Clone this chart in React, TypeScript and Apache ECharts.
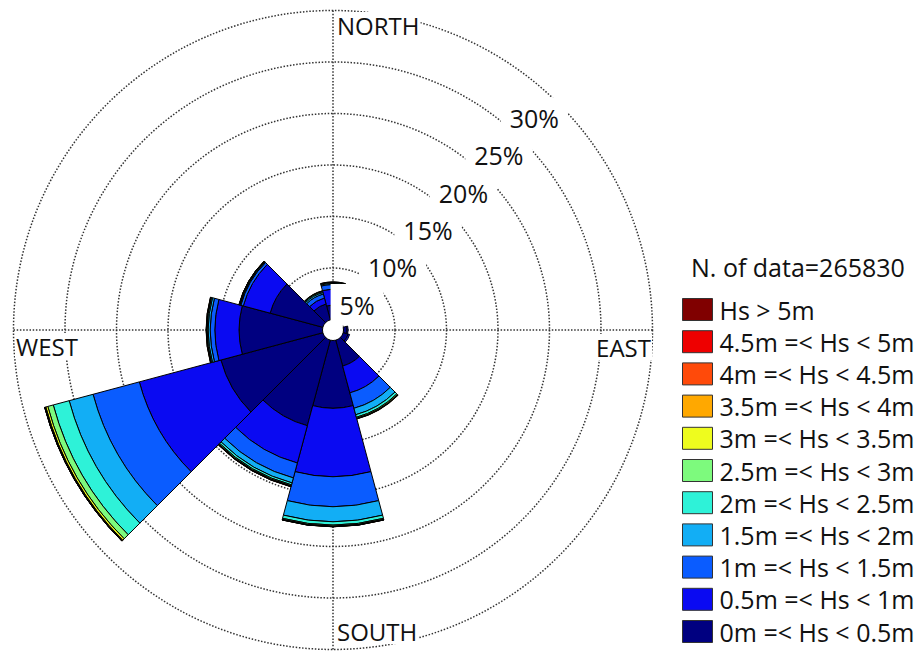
import { useEffect, useRef } from "react";
import * as echarts from "echarts";

// Direction sectors, clockwise from north, 30° each
const directions = ["N", "NNE", "ENE", "E", "ESE", "SSE", "S", "SSW", "WSW", "W", "WNW", "NNW"];

// Significant wave height classes (bottom of the stack first)
const hsClasses = [
  "0m =< Hs < 0.5m",
  "0.5m =< Hs < 1m",
  "1m =< Hs < 1.5m",
  "1.5m =< Hs < 2m",
  "2m =< Hs < 2.5m",
  "2.5m =< Hs < 3m",
  "3m =< Hs < 3.5m",
  "3.5m =< Hs < 4m",
  "4m =< Hs < 4.5m",
  "4.5m =< Hs < 5m",
  "Hs > 5m",
];
const hsColors = [
  "#000080", "#0a0af2", "#0a5cff", "#12aef5", "#2ef2d8",
  "#7dfa7d", "#eefc1e", "#ffa800", "#ff4a0a", "#ee0000", "#800000",
];

// Frequency (%) per direction, order N ... NNW
const hs0to05 = [1.4, 0, 0, 0.35, 0.5, 2.6, 6.58, 8.6, 10.25, 8.1, 5.3, 1.6];
const hs05to1 = [1.55, 0, 0, 0.1, 0.15, 2.7, 6.64, 3.75, 8.2, 2.35, 2.7, 0.6];
const hs1to15 = [0.45, 0, 0, 0, 0, 1.55, 2.91, 1.5, 4.65, 0.45, 0.25, 0.4];
const hs15to2 = [0.1, 0, 0, 0, 0, 0.65, 1.46, 0.5, 2.4, 0.2, 0.08, 0.15];
const hs2to25 = [0.08, 0, 0, 0, 0, 0.25, 0.32, 0.2, 1.6, 0.1, 0.05, 0.1];
const hs25to3 = [0.05, 0, 0, 0, 0, 0.1, 0.1, 0.1, 0.55, 0.05, 0.03, 0.05];
const hs3to35 = [0.02, 0, 0, 0, 0, 0.05, 0.04, 0.05, 0.2, 0.03, 0.02, 0.03];
const hs35to4 = [0, 0, 0, 0, 0, 0.03, 0.02, 0.03, 0.07, 0.02, 0.01, 0];
const hs4to45 = [0, 0, 0, 0, 0, 0, 0.01, 0.02, 0.03, 0, 0, 0];
const hs45to5 = [0, 0, 0, 0, 0, 0, 0, 0, 0.01, 0, 0, 0];
const hsOver5 = [0, 0, 0, 0, 0, 0, 0, 0, 0.01, 0, 0, 0];

const classValues = [
  hs0to05, hs05to1, hs1to15, hs15to2, hs2to25, hs25to3,
  hs3to35, hs35to4, hs4to45, hs45to5, hsOver5,
];

// Percentage rings
const ringTicks = [5, 10, 15, 20, 25, 30];
const cardinalLabels = ["NORTH", "EAST", "SOUTH", "WEST"];
const dataCountLabel = "N. of data=265830";

const CX = 333;
const CY = 330;
const R_IN = 10.5;
const R_OUT = 319.5;
const R_MAX = 30;
const FONT = '"Open Sans", "Noto Sans", sans-serif';

export default function App() {
  const ref = useRef<HTMLDivElement>(null);

  useEffect(() => {
    const chart = echarts.init(ref.current!, null, { renderer: "svg" });
    const toR = (v: number) => R_IN + (v / R_MAX) * (R_OUT - R_IN);
    const b = (43.5 * Math.PI) / 180;
    const gridLine = { color: "#333", width: 1.5, type: [1.5, 1.7] };

    const ringLabelEls = ringTicks.map((v) => {
      const d = toR(v) - 27;
      return {
        type: "text",
        z: 100,
        x: CX + d * Math.sin(b),
        y: CY - d * Math.cos(b),
        style: {
          text: `${v}%`,
          font: `25px ${FONT}`,
          fill: "#111",
          align: "center",
          verticalAlign: "middle",
          backgroundColor: "#fff",
          padding: [10, 9, 6, 9],
        },
      };
    });

    const cardinalPos = [
      { x: 336, y: 25, align: "left" },
      { x: 652, y: 347, align: "right" },
      { x: 336, y: 631, align: "left" },
      { x: 15, y: 346, align: "left" },
    ];
    const cardinalEls = cardinalLabels.map((t, i) => ({
      type: "text",
      z: 100,
      x: cardinalPos[i].x,
      y: cardinalPos[i].y,
      style: {
        text: t,
        font: `24px ${FONT}`,
        fill: "#111",
        align: cardinalPos[i].align,
        verticalAlign: "middle",
        backgroundColor: "#fff",
        padding: [1, 1],
      },
    }));

    chart.setOption({
      animation: false,
      backgroundColor: "#fff",
      polar: [
        { center: [CX, CY], radius: [R_IN, R_OUT] },
        { center: [CX, CY], radius: [R_IN, R_OUT] },
      ],
      angleAxis: [
        {
          polarIndex: 0,
          type: "category",
          data: directions,
          startAngle: 105,
          clockwise: true,
          boundaryGap: true,
          axisLine: { show: false },
          axisTick: { show: false },
          axisLabel: { show: false },
          splitLine: { show: false },
        },
        {
          polarIndex: 1,
          type: "value",
          min: 0,
          max: 360,
          interval: 90,
          startAngle: 90,
          axisLine: { show: false },
          axisTick: { show: false },
          axisLabel: { show: false },
          splitLine: { show: true, lineStyle: gridLine },
        },
      ],
      radiusAxis: [
        {
          polarIndex: 0,
          type: "value",
          min: 0,
          max: R_MAX,
          interval: 5,
          axisLine: { show: false },
          axisTick: { show: false },
          axisLabel: { show: false },
          splitLine: { show: true, lineStyle: gridLine },
        },
        { polarIndex: 1, type: "value", min: 0, max: R_MAX, show: false },
      ],
      legend: {
        orient: "vertical",
        left: 682,
        top: 297,
        padding: 0,
        itemWidth: 30,
        itemHeight: 22,
        itemGap: 7.2,
        icon: "rect",
        selectedMode: false,
        data: [...hsClasses].reverse(),
        itemStyle: { borderColor: "#333", borderWidth: 1 },
        textStyle: { fontFamily: FONT, fontSize: 25, color: "#111", padding: [0, 0, 0, 2] },
      },
      graphic: [
        {
          type: "circle",
          z: 1,
          shape: { cx: CX, cy: CY, r: R_IN },
          style: { fill: "#fff" },
        },
        ...ringLabelEls,
        ...cardinalEls,
        {
          type: "text",
          z: 100,
          x: 691,
          y: 267,
          style: {
            text: dataCountLabel,
            font: `25px ${FONT}`,
            fill: "#111",
            align: "left",
            verticalAlign: "middle",
          },
        },
      ],
      series: hsClasses.map((name, i) => ({
        type: "bar",
        name,
        coordinateSystem: "polar",
        polarIndex: 0,
        stack: "hs",
        barCategoryGap: "0%",
        z: 2,
        data: classValues[i].map((v) => (v > 0 ? v : "-")),
        itemStyle: { color: hsColors[i], borderColor: "#000", borderWidth: 1 },
        emphasis: { disabled: true },
      })),
    });

    return () => chart.dispose();
  }, []);

  return (
    <div
      ref={ref}
      style={{ position: "absolute", left: 0, top: 0, width: 923, height: 653 }}
    />
  );
}
